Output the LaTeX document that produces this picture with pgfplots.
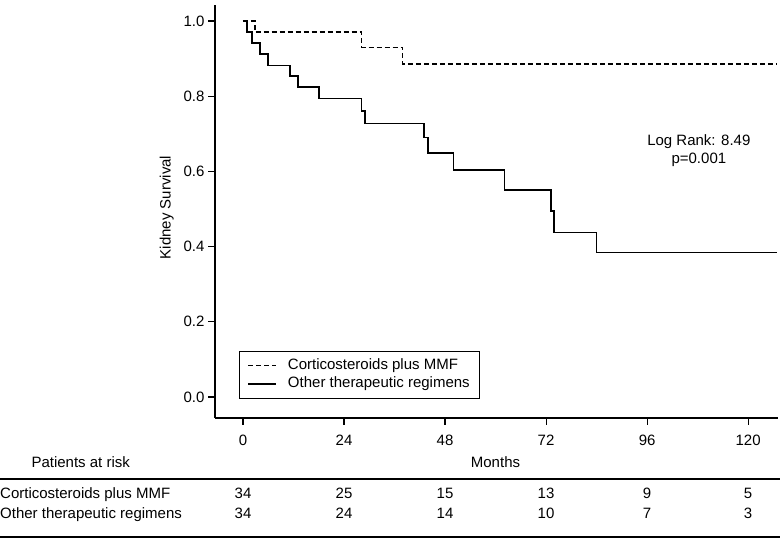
\documentclass[border=0pt]{standalone}
\usepackage{fontspec}
\setmainfont{Liberation Sans}
\usepackage{pgfplots}
\pgfplotsset{compat=1.18}
\begin{document}
\begin{tikzpicture}[font=\fontsize{15bp}{18bp}\selectfont]
\useasboundingbox (0,0) rectangle (780bp,539bp);
\begin{axis}[
  at={(215bp,121bp)}, anchor=south west,
  scale only axis, width=563bp, height=413bp,
  xmin=-6.65, xmax=127.1, ymin=-0.0559, ymax=1.0426,
  axis x line*=bottom, axis y line*=left,
  axis line style={-, line width=1.1bp},
  tick align=outside, major tick length=7bp,
  tick style={line width=1.1bp, black},
  xtick={0,24,48,72,96,120},
  ytick={0,0.2,0.4,0.6,0.8,1.0},
  /pgf/number format/assume math mode=true,
  yticklabel style={/pgf/number format/fixed, /pgf/number format/fixed zerofill, /pgf/number format/precision=1},
  xticklabel style={yshift=-7bp},
  ylabel={Kidney Survival},
  ylabel style={at={(axis description cs:-0.0855,0.51)}, anchor=center, rotate=0},
  clip=false,
  legend style={at={(axis description cs:0.0426,0.1622)}, anchor=north west, draw=black, line width=0.8bp,
    font=\fontsize{15bp}{18bp}\selectfont, row sep=0pt, column sep=9bp, inner xsep=8bp, inner ysep=5bp,
    nodes={inner ysep=2bp, text height=11bp, text depth=3.5bp}},
  legend cell align=left,
  legend image code/.code={\draw[#1] (0bp,0bp) -- (28bp,0bp);},
]
\addplot[const plot, black, line width=1.6bp, dash pattern=on 5bp off 3bp] coordinates {
 (0,1) (2.85,0.970) (28.2,0.930) (37.9,0.885) (126.8,0.885)};
\addlegendentry{Corticosteroids plus MMF}
\addplot[const plot, black, line width=1.6bp] coordinates {
 (0,1) (0.9,0.970) (2.1,0.941) (4,0.912) (6,0.882) (11.2,0.853) (13.1,0.824)
 (18.1,0.794) (28.2,0.760) (29,0.727) (43,0.690) (44,0.649) (50,0.604)
 (62.1,0.551) (73.1,0.494) (73.9,0.438) (84,0.384) (126.8,0.384)};
\addlegendentry{Other therapeutic regimens}
\node[align=center, anchor=center] at (axis cs:108.3,0.6545) {Log Rank: 8.49\\p=0.001};
\end{axis}
% risk table (page coordinates: y = 539 - pixel)
\node[anchor=base] at (495.5bp,71bp) {Months};
\node[anchor=base west] at (28bp,71bp) {Patients at risk};
\draw[line width=1.1bp] (0bp,60bp) -- (780bp,60bp);
\draw[line width=1.1bp] (0bp,2bp) -- (780bp,2bp);
\node[anchor=base west, inner xsep=0pt] at (0bp,40.7bp) {Corticosteroids plus MMF};
\node[anchor=base west, inner xsep=0pt] at (0bp,20.7bp) {Other therapeutic regimens};
\foreach \x/\a/\b in {243/34/34, 344/25/24, 445/15/14, 546/13/10, 647/9/7, 748/5/3} {
  \node[anchor=base] at (\x bp,40.7bp) {\a};
  \node[anchor=base] at (\x bp,20.7bp) {\b};
}
\end{tikzpicture}
\end{document}
